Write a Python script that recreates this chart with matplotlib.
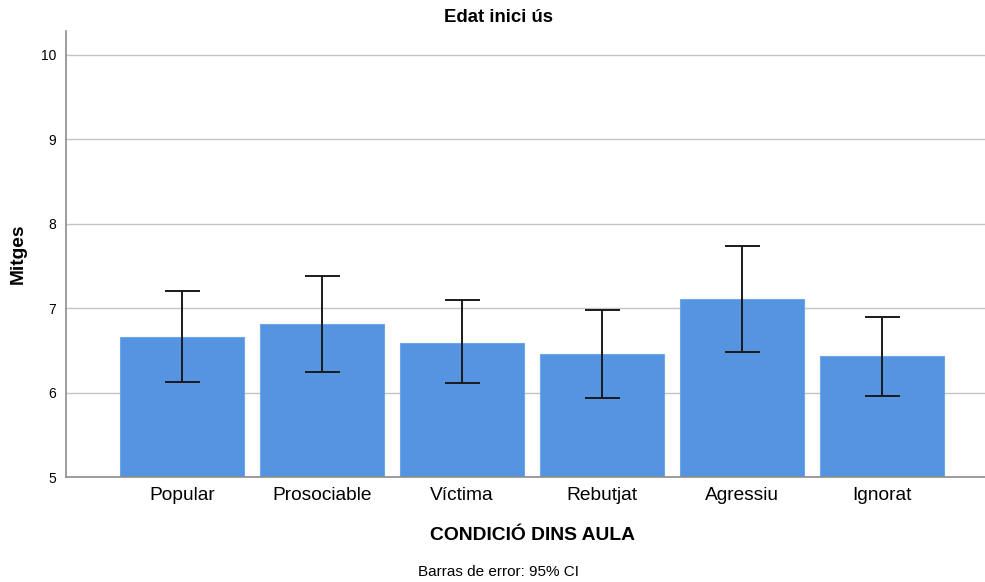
import matplotlib.pyplot as plt

plt.rcParams['font.family'] = ['Liberation Sans', 'DejaVu Sans']

categories = ['Popular', 'Prosociable', 'Víctima', 'Rebutjat', 'Agressiu', 'Ignorat']
means = [6.66, 6.81, 6.59, 6.46, 7.11, 6.43]
ci_low = [6.13, 6.24, 6.11, 5.94, 6.48, 5.96]
ci_high = [7.20, 7.38, 7.09, 6.98, 7.74, 6.90]
yticks = [5, 6, 7, 8, 9, 10]

fig = plt.figure(figsize=(9.85, 5.82), dpi=100)
ax = fig.add_axes([0.067, 0.1804, 0.933, 0.7663])

x = list(range(len(categories)))
err_lo = [m - l for m, l in zip(means, ci_low)]
err_hi = [h - m for m, h in zip(means, ci_high)]

ax.bar(x, means, width=0.89, bottom=0, color='#5494e0', edgecolor='#6ea6e8',
       linewidth=0.8, zorder=2)
ax.errorbar(x, means, yerr=[err_lo, err_hi], fmt='none', ecolor='#1a1a1a',
            elinewidth=1.4, capsize=12.6, capthick=1.4, zorder=3)

ax.set_ylim(5, 10.28)
ax.set_xlim(-0.829, 5.736)
ax.set_yticks(yticks)
ax.set_xticks(x)
ax.set_xticklabels(categories, fontsize=13.8)
ax.tick_params(axis='y', labelsize=10, length=0, pad=7)
ax.tick_params(axis='x', length=0, pad=7)
ax.yaxis.grid(True, color='#c4c4c4', linewidth=1.0, zorder=0)
ax.set_axisbelow(True)

for s in ['top', 'right']:
    ax.spines[s].set_visible(False)
for s in ['left', 'bottom']:
    ax.spines[s].set_color('#8c8c8c')
    ax.spines[s].set_linewidth(1.2)

fig.text(18 / 985, 1 - 254 / 582, 'Mitges', ha='center', va='center', rotation=90,
         fontsize=13.8, fontweight='bold')
fig.text(498 / 985, 1 - 18 / 582, 'Edat inici ús', ha='center', va='center',
         fontsize=13.4, fontweight='bold')
fig.text(532 / 985, 1 - 535 / 582, 'CONDICIÓ DINS AULA', ha='center', va='center',
         fontsize=13.9, fontweight='bold')
fig.text(498 / 985, 1 - 572 / 582, 'Barras de error: 95% CI', ha='center', va='center',
         fontsize=11)

fig.savefig('out.png', dpi=100)
